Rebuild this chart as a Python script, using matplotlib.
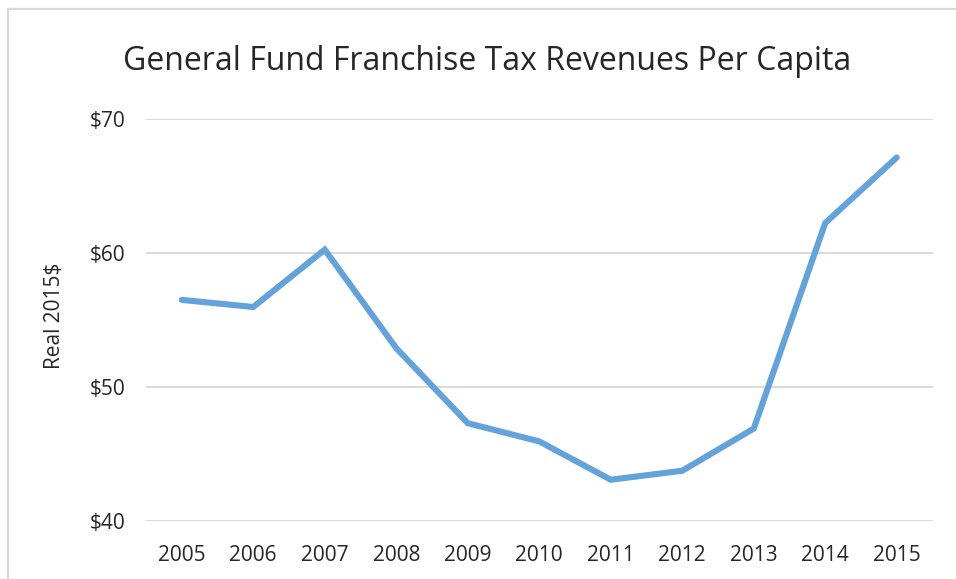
import matplotlib
matplotlib.use("Agg")
import matplotlib.pyplot as plt
from matplotlib.lines import Line2D

plt.rcParams['font.family'] = ['Open Sans', 'DejaVu Sans']

# franchise tax revenue per capita, real 2015 dollars
years = ['2005', '2006', '2007', '2008', '2009', '2010',
         '2011', '2012', '2013', '2014', '2015']
revenue = [56.5, 55.97, 60.25, 52.9, 47.3, 45.94,
           43.08, 43.75, 46.9, 62.24, 67.13]
y_ticks = [40, 50, 60, 70]
y_tick_labels = ['$40', '$50', '$60', '$70']

fig = plt.figure(figsize=(9.56, 5.79), dpi=100)
ax = fig.add_axes([146 / 956, 1 - 521 / 579, 786.5 / 956, 402 / 579])

x = list(range(len(years)))
ax.plot(x, revenue, color='#62A3DB', linewidth=4.4,
        solid_capstyle='round', solid_joinstyle='miter', zorder=3)

ax.set_xlim(-0.5, len(years) - 0.5)
ax.set_ylim(40, 70)
ax.set_yticks(y_ticks)
ax.set_yticklabels(y_tick_labels)
ax.set_xticks(x)
ax.set_xticklabels(years)
ax.tick_params(axis='both', length=0, labelsize=15, colors='#262626')
ax.tick_params(axis='x', pad=17)
ax.tick_params(axis='y', pad=15)
ax.yaxis.grid(True, color='#D9D9D9', linewidth=1.4)
ax.set_axisbelow(True)
for s in ax.spines.values():
    s.set_visible(False)

ax.set_ylabel('Real 2015$', fontsize=15, color='#262626')
ax.yaxis.set_label_coords(-0.103, 0.51)

fig.text(487 / 956, 1 - 62 / 579, 'General Fund Franchise Tax Revenues Per Capita',
         ha='center', va='center', fontsize=23, color='#262626')

# frame edges (left and top)
fig.add_artist(Line2D([8 / 956, 8 / 956], [0, 1 - 9 / 579],
                      color='#D9D9D9', linewidth=1.6))
fig.add_artist(Line2D([8 / 956, 1], [1 - 9 / 579, 1 - 9 / 579],
                      color='#D9D9D9', linewidth=1.6))

fig.savefig('out.png', dpi=100)
